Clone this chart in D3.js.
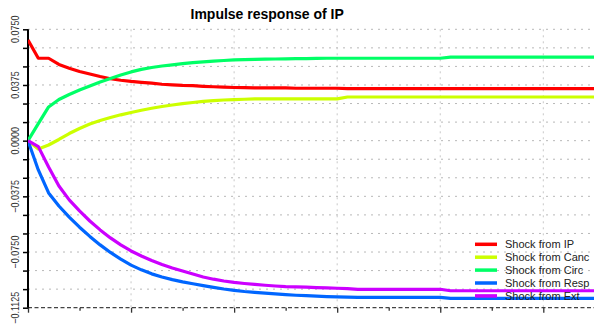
<!DOCTYPE html>
<html>
<head>
<meta charset="utf-8">
<script src="https://cdn.jsdelivr.net/npm/d3@7/dist/d3.min.js"></script>
<style>
  html, body { margin: 0; padding: 0; background: #fff; }
  svg { display: block; font-family: "Liberation Sans", Arial, sans-serif; }
</style>
</head>
<body>
<svg id="chart" width="594" height="325"></svg>
<script>
// Impulse responses of IP to shocks from each variable, periods 0..55
const periods = d3.range(0, 56);

const shockIP = [
  0.0678, 0.0555, 0.0555, 0.0513, 0.0488, 0.0466, 0.0449, 0.0432, 0.0417, 0.0407,
  0.0399, 0.0393, 0.0387, 0.0380, 0.0376, 0.0372, 0.0370, 0.0366, 0.0363, 0.0360,
  0.0358, 0.0357, 0.0356, 0.0356, 0.0355, 0.0355, 0.0353, 0.0353, 0.0353, 0.0353,
  0.0353, 0.0350, 0.0350, 0.0350, 0.0350, 0.0350, 0.0350, 0.0350, 0.0350, 0.0350,
  0.0350, 0.0350, 0.0350, 0.0350, 0.0350, 0.0350, 0.0350, 0.0350, 0.0350, 0.0350,
  0.0350, 0.0350, 0.0350, 0.0350, 0.0350, 0.0350
];
const shockCanc = [
  0.0000, -0.0056, -0.0029, 0.0008, 0.0048, 0.0082, 0.0112, 0.0136, 0.0156, 0.0174,
  0.0190, 0.0205, 0.0218, 0.0230, 0.0240, 0.0249, 0.0257, 0.0264, 0.0269, 0.0274,
  0.0277, 0.0279, 0.0281, 0.0281, 0.0281, 0.0281, 0.0281, 0.0281, 0.0281, 0.0281,
  0.0281, 0.0294, 0.0294, 0.0294, 0.0294, 0.0294, 0.0294, 0.0294, 0.0294, 0.0294,
  0.0294, 0.0294, 0.0294, 0.0294, 0.0294, 0.0294, 0.0294, 0.0294, 0.0294, 0.0294,
  0.0294, 0.0294, 0.0294, 0.0294, 0.0294, 0.0294
];
const shockCirc = [
  0.0000, 0.0115, 0.0227, 0.0277, 0.0311, 0.0341, 0.0368, 0.0395, 0.0419, 0.0442,
  0.0463, 0.0480, 0.0493, 0.0503, 0.0511, 0.0519, 0.0526, 0.0531, 0.0536, 0.0540,
  0.0544, 0.0546, 0.0548, 0.0549, 0.0550, 0.0551, 0.0552, 0.0553, 0.0554, 0.0555,
  0.0555, 0.0555, 0.0555, 0.0555, 0.0555, 0.0555, 0.0555, 0.0555, 0.0555, 0.0555,
  0.0555, 0.0562, 0.0562, 0.0562, 0.0562, 0.0562, 0.0562, 0.0562, 0.0562, 0.0562,
  0.0562, 0.0562, 0.0562, 0.0562, 0.0562, 0.0562
];
const shockResp = [
  0.0000, -0.0197, -0.0352, -0.0440, -0.0515, -0.0583, -0.0645, -0.0702, -0.0753, -0.0798,
  -0.0838, -0.0870, -0.0897, -0.0918, -0.0936, -0.0951, -0.0964, -0.0976, -0.0988, -0.0999,
  -0.1008, -0.1016, -0.1022, -0.1027, -0.1032, -0.1037, -0.1041, -0.1044, -0.1047, -0.1050,
  -0.1052, -0.1054, -0.1056, -0.1056, -0.1056, -0.1056, -0.1056, -0.1056, -0.1056, -0.1056,
  -0.1056, -0.1062, -0.1062, -0.1062, -0.1062, -0.1062, -0.1062, -0.1062, -0.1062, -0.1062,
  -0.1062, -0.1062, -0.1062, -0.1062, -0.1062, -0.1062
];
const shockExt = [
  0.0000, -0.0040, -0.0177, -0.0305, -0.0399, -0.0473, -0.0541, -0.0601, -0.0655, -0.0702,
  -0.0743, -0.0777, -0.0807, -0.0834, -0.0857, -0.0878, -0.0898, -0.0918, -0.0933, -0.0945,
  -0.0955, -0.0962, -0.0968, -0.0974, -0.0979, -0.0983, -0.0985, -0.0987, -0.0990, -0.0992,
  -0.0994, -0.0997, -0.1001, -0.1001, -0.1001, -0.1001, -0.1001, -0.1001, -0.1001, -0.1001,
  -0.1001, -0.1011, -0.1011, -0.1011, -0.1011, -0.1011, -0.1011, -0.1011, -0.1011, -0.1011,
  -0.1011, -0.1011, -0.1011, -0.1011, -0.1011, -0.1011
];

const seriesNames = ["Shock from IP", "Shock from Canc", "Shock from Circ", "Shock from Resp", "Shock from Ext"];
const seriesValues = [shockIP, shockCanc, shockCirc, shockResp, shockExt];
const seriesColors = ["#FF0000", "#CCFF00", "#00FF66", "#0066FF", "#CC00FF"];

const yTickValues = d3.range(-0.1125, 0.0751, 0.0125);
const yLabelValues = [0.0750, 0.0375, 0.0000, -0.0375, -0.0750, -0.1125];
const xMinorTicks = d3.range(0, 56, 5);
const xMajorTicks = d3.range(0, 56, 10);
const titleText = "Impulse response of IP";

const svg = d3.select("#chart");
const W = 594, H = 325;
const plotLeft = 28, plotTop = 29.3, plotBottom = 307.7;

const x = d3.scaleLinear().domain([0, 50]).range([plotLeft, 543.3]);
const y = d3.scaleLinear().domain([-0.1125, 0.075]).range([plotBottom, plotTop]);

svg.append("rect").attr("width", W).attr("height", H).attr("fill", "#fff");

svg.append("defs").append("clipPath").attr("id", "plotclip")
  .append("rect").attr("x", plotLeft).attr("y", 0).attr("width", W - plotLeft).attr("height", plotBottom + 4);

// grid
const grid = svg.append("g");
grid.selectAll("line.h").data(yTickValues.filter(v => v > -0.112)).join("line")
  .attr("class", "h")
  .attr("x1", plotLeft).attr("x2", W)
  .attr("y1", d => y(d)).attr("y2", d => y(d))
  .attr("stroke", "#b8b8b8").attr("stroke-width", 1).attr("stroke-dasharray", "2,5");
grid.selectAll("line.v").data(xMajorTicks.filter(d => d > 0)).join("line")
  .attr("class", "v")
  .attr("x1", d => x(d)).attr("x2", d => x(d))
  .attr("y1", plotTop).attr("y2", plotBottom)
  .attr("stroke", "#c8c8c8").attr("stroke-width", 1).attr("stroke-dasharray", "2,4");

// x axis (dashed baseline with ticks)
const xAxis = svg.append("g").attr("transform", `translate(0,${plotBottom})`)
  .call(d3.axisBottom(x).tickValues(xMinorTicks).tickSize(3).tickFormat(""));
xAxis.select(".domain").attr("stroke", "#444").attr("stroke-width", 1.3).attr("stroke-dasharray", "4,2.5")
  .attr("d", `M${plotLeft},0H${W}`);
xAxis.selectAll(".tick line").attr("stroke", "#333").attr("stroke-width", 1.3)
  .attr("y2", d => (d % 10 === 0 ? 5 : 3));

// y axis
const yAxis = svg.append("g").attr("transform", `translate(${plotLeft},0)`)
  .call(d3.axisLeft(y).tickValues(yTickValues).tickSize(5).tickFormat(""));
yAxis.select(".domain").attr("stroke", "#000").attr("stroke-width", 2)
  .attr("d", `M0,${plotTop}V${plotBottom}`);
yAxis.selectAll(".tick line").attr("stroke", "#000").attr("stroke-width", 1.5);

svg.append("g").selectAll("text").data(yLabelValues).join("text")
  .attr("transform", d => `translate(18.5,${y(d)}) rotate(-90) scale(0.82,1)`)
  .attr("text-anchor", "middle")
  .attr("font-size", 11)
  .attr("fill", "#333")
  .text(d => d3.format(".4f")(d));

// response lines
const line = d3.line().x((d, i) => x(periods[i])).y(d => y(d));
svg.append("g").attr("clip-path", "url(#plotclip)")
  .selectAll("path").data(seriesValues).join("path")
  .attr("d", line)
  .attr("fill", "none")
  .attr("stroke", (d, i) => seriesColors[i])
  .attr("stroke-width", 3.2)
  .attr("stroke-linejoin", "round");

// title
svg.append("text").attr("x", 190.5).attr("y", 19)
  .attr("font-size", 14).attr("font-weight", "bold").attr("fill", "#000")
  .text(titleText);

// legend
const legend = svg.append("g").attr("transform", "translate(475,244.3)");
const rows = legend.selectAll("g").data(seriesNames).join("g")
  .attr("transform", (d, i) => `translate(0,${i * 12.9})`);
rows.append("line").attr("x1", 0).attr("x2", 22).attr("y1", 0).attr("y2", 0)
  .attr("stroke", (d, i) => seriesColors[i]).attr("stroke-width", 3.5);
rows.append("text").attr("x", 30).attr("y", 0).attr("dy", "0.35em")
  .attr("font-size", 11).attr("fill", "#222").text(d => d);
</script>
</body>
</html>
